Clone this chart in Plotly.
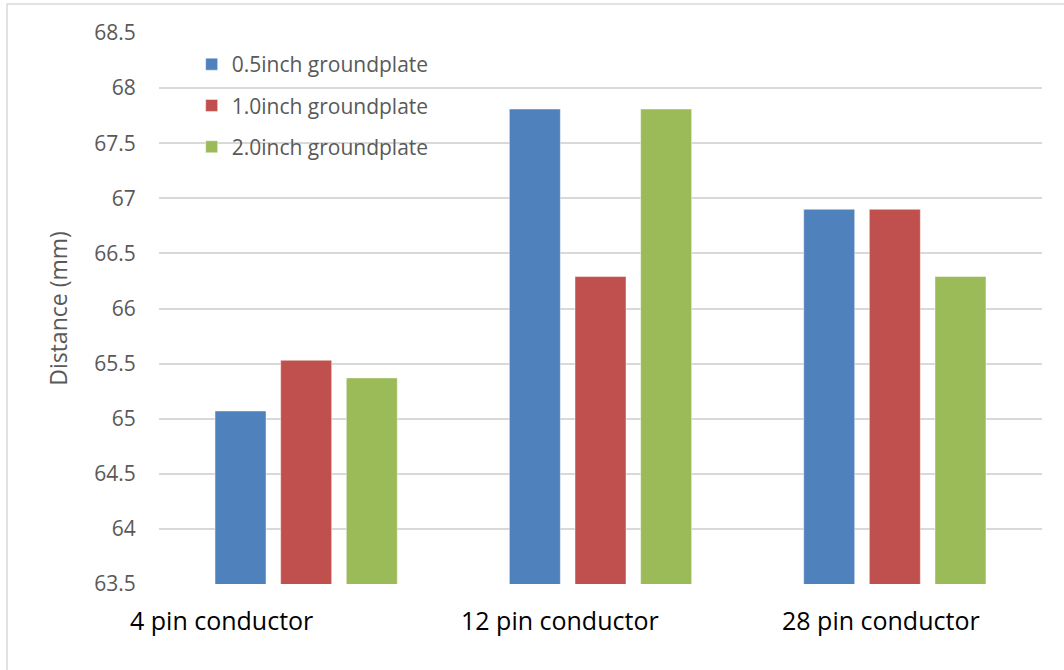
import plotly.graph_objects as go

# Measured distances per connector type and ground plate size
categories = ["4 pin conductor", "12 pin conductor", "28 pin conductor"]
series_names = ["0.5inch groundplate", "1.0inch groundplate", "2.0inch groundplate"]
dist_05 = [65.07, 67.81, 66.90]
dist_10 = [65.53, 66.29, 66.90]
dist_20 = [65.37, 67.81, 66.29]
y_ticks = [63.5, 64, 64.5, 65, 65.5, 66, 66.5, 67, 67.5, 68, 68.5]

colors = ["#4F81BD", "#C0504D", "#9BBB59"]
font_family = "Open Sans, DejaVu Sans, sans-serif"

fig = go.Figure()
for i, (name, vals, col) in enumerate(zip(series_names, [dist_05, dist_10, dist_20], colors)):
    fig.add_trace(go.Bar(
        x=categories, y=vals, name=name, legendgroup=f"g{i}",
        marker=dict(color=col, line=dict(color="rgba(255,255,255,0.45)", width=1)),
    ))

# category labels placed below the axis with individual horizontal offsets
label_shift = [-85, -41, -14]
for cat, dx in zip(categories, label_shift):
    fig.add_annotation(x=cat, xref="x", y=0, yref="paper", yanchor="middle",
                       yshift=-36, xshift=dx, text=cat, showarrow=False,
                       font=dict(family=font_family, size=25, color="#000000"))

fig.update_layout(
    width=1064, height=670,
    margin=dict(l=159, r=22, t=33, b=86),
    paper_bgcolor="white", plot_bgcolor="white",
    barmode="group", bargap=0.331, bargroupgap=0.223,
    font=dict(family=font_family, color="#595959"),
    showlegend=True,
    legend=dict(x=0.037, y=0.98, xanchor="left", yanchor="top",
                font=dict(size=21, color="#595959", family=font_family),
                traceorder="grouped", tracegroupgap=11,
                bgcolor="rgba(0,0,0,0)"),
    xaxis=dict(range=[-0.5, 2.5], autorange=False,
               showticklabels=False, showgrid=False, zeroline=False,
               showline=False, ticks="", automargin=False),
    yaxis=dict(range=[63.5, 68.5], tickvals=y_ticks,
               ticktext=[f"{v:g}" for v in y_ticks],
               showgrid=True, gridcolor="#D9D9D9", gridwidth=1.5,
               zeroline=False, showline=False, automargin=False,
               ticks="outside", ticklen=18, tickcolor="rgba(0,0,0,0)",
               tickfont=dict(size=21, color="#595959", family=font_family),
               title=dict(text="Distance (mm)", standoff=20,
                          font=dict(size=23, color="#595959", family=font_family))),
    shapes=[dict(type="rect", xref="paper", yref="paper",
                 x0=-0.1721, x1=1.2, y0=-0.3, y1=1.0526,
                 line=dict(color="#D9D9D9", width=1.5), layer="below")],
)

fig.write_html("out.html")
